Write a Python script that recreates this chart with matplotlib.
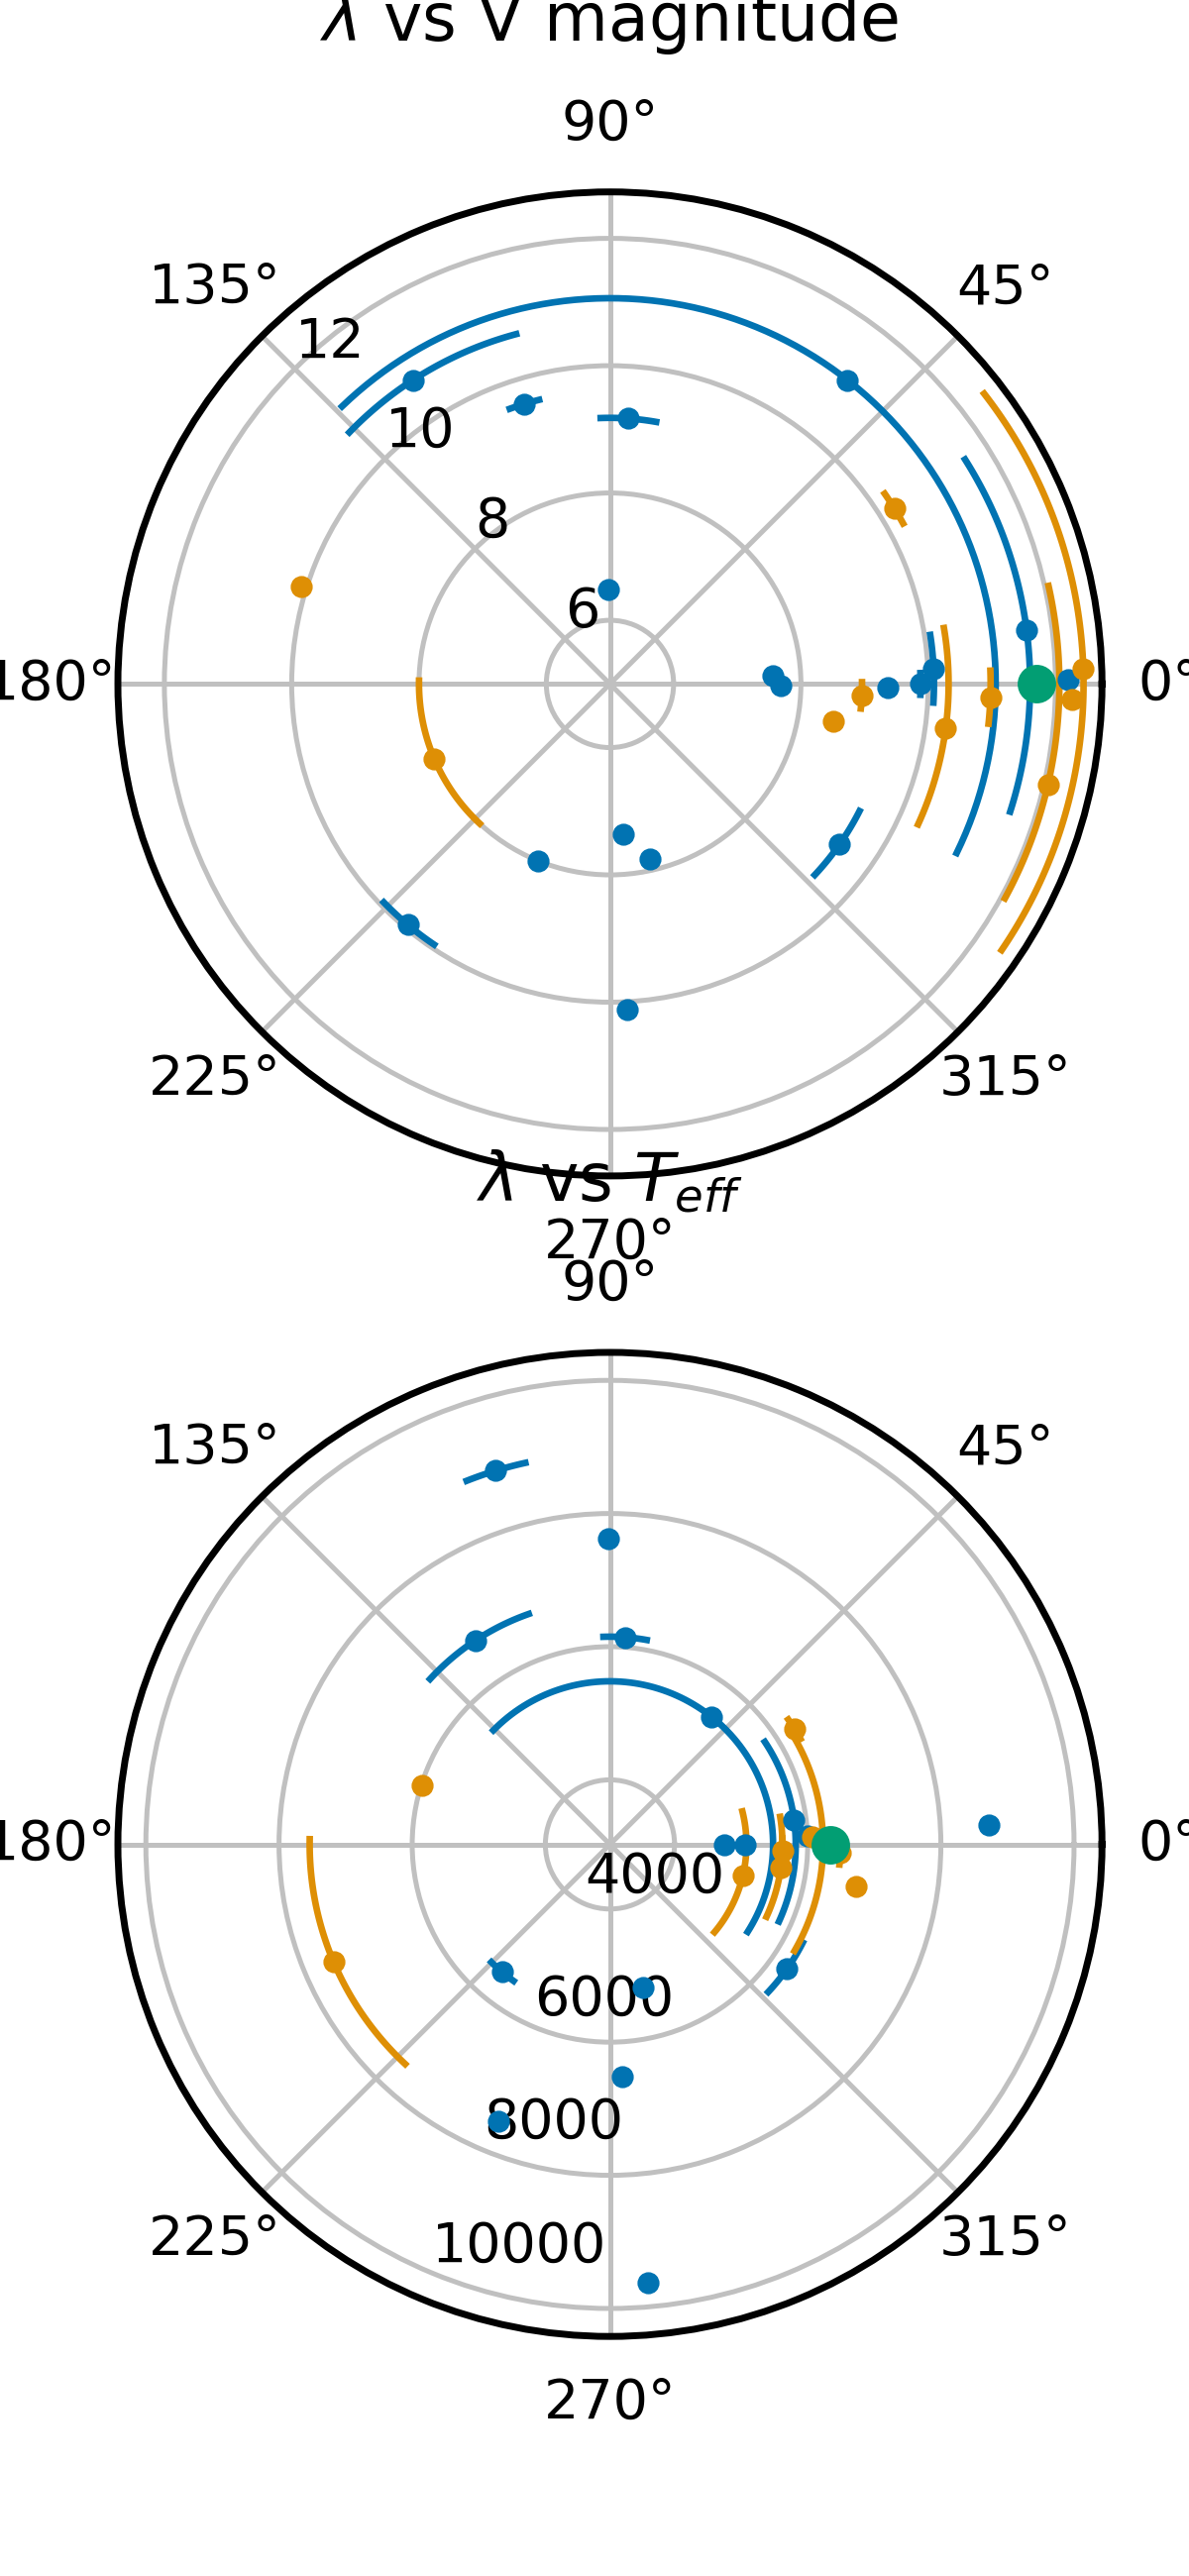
import numpy as np
import matplotlib.pyplot as plt

plt.rcParams['font.size'] = 20

blue_c = '#0173b2'
orange_c = '#de8f05'
green_c = '#029e73'

# panel 1: lambda (deg) vs V magnitude
v_blue_lam = [52, 123, 107, 86, 91, 3, -0.5, -0.8, 0, 2.7, 7.3, 0.5, 275, 283, 248, 325, 230, 273]
v_blue_mag = [11.06, 10.69, 9.6, 9.18, 6.48, 7.56, 7.68, 9.37, 9.88, 10.09, 11.6, 12.2, 7.37, 7.83, 8.0, 9.4, 9.94, 10.13]
v_blue_elo = [78, 18, 3, 6, 0, 0, 0, 0, 2, 6, 25, 0, 0, 0, 0, 8, 6, 0]
v_blue_ehi = [82, 13, 3, 6, 0, 0, 0, 0, 2, 6, 25, 0, 0, 0, 0, 8, 6, 0]

v_orange_lam = [162.5, 31.7, -2.6, -9.6, -7.5, -2, 1.8, -13, -1.9, 203]
v_orange_mag = [10.08, 10.25, 8.96, 8.56, 10.32, 10.98, 12.44, 12.06, 12.26, 8.0]
v_orange_elo = [0, 3, 3, 0, 17, 4, 36, 15.5, 0, 24]
v_orange_ehi = [0, 3, 3, 0, 17, 4, 36, 25.6, 0, 24]

v_target_lam = [0]
v_target_mag = [11.7]

# panel 2: lambda (deg) vs Teff
t_blue_lam = [107, 90.3, 123.4, 85.8, 51.6, 7.5, 0, 0, 2.6, 3, 229.8, 283, 325, 273, 248, 275]
t_blue_teff = [8900, 7620, 6700, 6150, 5480, 5820, 4740, 5060, 6000, 8730, 5540, 5230, 6280, 6520, 7520, 9640]
t_blue_elo = [4.5, 0, 14, 6, 84, 32, 0, 0, 0, 0, 5, 0, 8, 0, 0, 0]
t_blue_ehi = [4.5, 0, 14, 6, 84, 26, 0, 0, 0, 0, 5, 0, 8, 0, 0, 0]

t_orange_lam = [162.7, 32, -2, -13, -7.8, 2, -2, -9.8, -1, 203]
t_orange_teff = [5990, 6300, 5620, 5080, 5620, 6080, 6490, 6780, 6230, 7540]
t_orange_elo = [0, 3, 4, 27, 17, 0, 3, 0, 29, 24]
t_orange_ehi = [0, 3, 4, 27, 17, 0, 3, 0, 31, 24]

t_target_lam = [0]
t_target_teff = [6345]


def draw(ax, lam, rr, elo, ehi, color):
    for th, r, lo, hi in zip(lam, rr, elo, ehi):
        if lo > 0 or hi > 0:
            arc = np.radians(np.linspace(th - lo, th + hi, 100))
            ax.plot(arc, np.full_like(arc, r), color=color, lw=2.4, zorder=3)
    ax.plot(np.radians(lam), rr, 'o', color=color, ms=7, zorder=4)


def style(ax, title, rlim, rticks, rlab, rpos):
    ax.set_ylim(*rlim)
    ax.set_yticks(rticks)
    ax.set_yticklabels(rlab)
    ax.set_rlabel_position(rpos)
    ax.set_thetagrids(np.arange(0, 360, 45))
    ax.tick_params(axis='x', pad=14)
    ax.grid(color='#c0c0c0', lw=1.8)
    ax.spines['polar'].set_linewidth(2.5)
    ax.set_title(title, pad=55)


fig = plt.figure(figsize=(6, 13), dpi=200)
ax1 = fig.add_axes([0.099, 0.5435, 0.828, 0.382], projection='polar')
draw(ax1, v_blue_lam, v_blue_mag, v_blue_elo, v_blue_ehi, blue_c)
draw(ax1, v_orange_lam, v_orange_mag, v_orange_elo, v_orange_ehi, orange_c)
ax1.plot(np.radians(v_target_lam), v_target_mag, 'o', color=green_c, ms=13, zorder=5)
style(ax1, r'$\lambda$ vs V magnitude', (5, 12.73), [6, 8, 10, 12], ['6', '8', '10', '12'], 135)

ax2 = fig.add_axes([0.099, 0.093, 0.828, 0.382], projection='polar')
draw(ax2, t_blue_lam, t_blue_teff, t_blue_elo, t_blue_ehi, blue_c)
draw(ax2, t_orange_lam, t_orange_teff, t_orange_elo, t_orange_ehi, orange_c)
ax2.plot(np.radians(t_target_lam), t_target_teff, 'o', color=green_c, ms=13, zorder=5)
style(ax2, r'$\lambda$ vs $T_{eff}$', (3030, 10420), [4000, 6000, 8000, 10000],
      ['4000', '6000', '8000', '10000'], 247.5)

fig.savefig('out.png', dpi=200)
